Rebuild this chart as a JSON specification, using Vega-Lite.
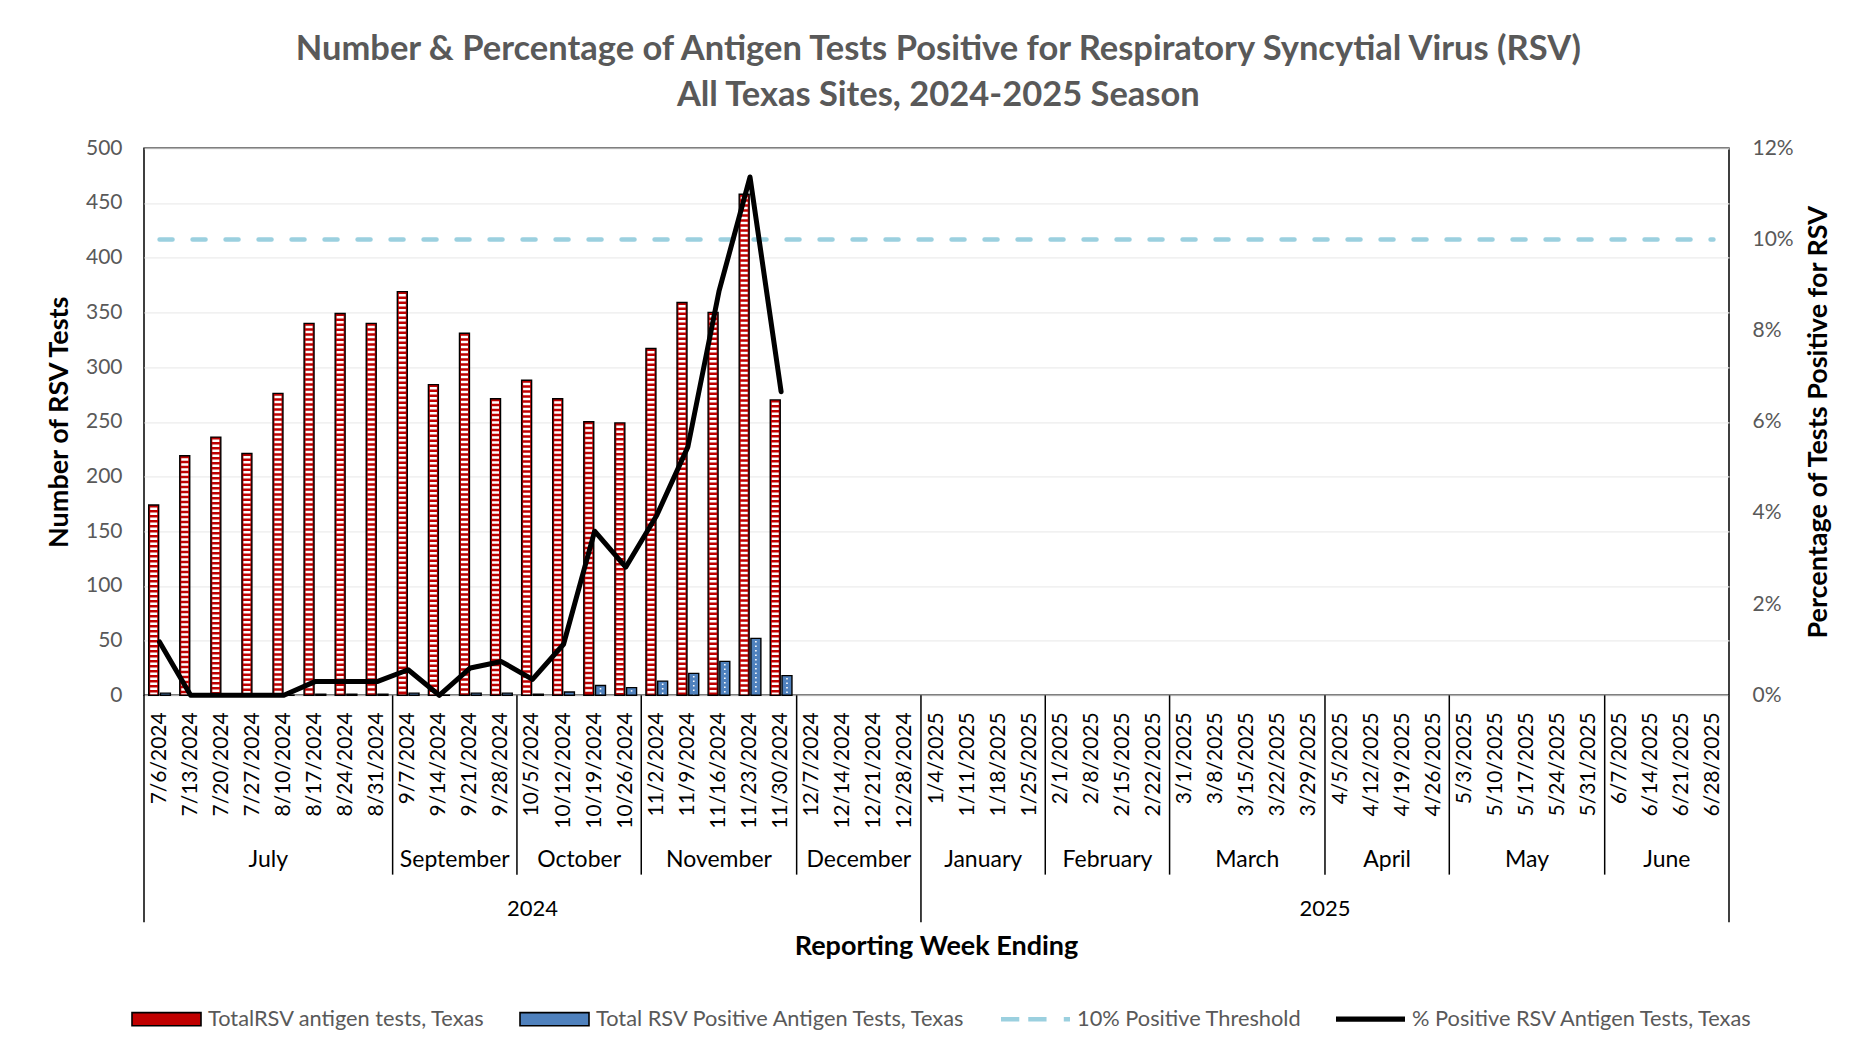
{
  "$schema": "https://vega.github.io/schema/vega-lite/v6.json",
  "background": "white",
  "padding": {"left": 44, "top": 31.3, "right": 42, "bottom": 2},
  "bounds": "flush",
  "spacing": 0,
  "datasets": {
    "rsv": [
      {"week": "7/6/2024", "total": 174, "positive": 2, "pct": 1.17},
      {"week": "7/13/2024", "total": 219, "positive": 0, "pct": 0},
      {"week": "7/20/2024", "total": 236, "positive": 0, "pct": 0},
      {"week": "7/27/2024", "total": 221, "positive": 0, "pct": 0},
      {"week": "8/10/2024", "total": 276, "positive": 0, "pct": 0},
      {"week": "8/17/2024", "total": 340, "positive": 1, "pct": 0.3},
      {"week": "8/24/2024", "total": 349, "positive": 1, "pct": 0.3},
      {"week": "8/31/2024", "total": 340, "positive": 1, "pct": 0.3},
      {"week": "9/7/2024", "total": 369, "positive": 2, "pct": 0.56},
      {"week": "9/14/2024", "total": 284, "positive": 0, "pct": 0},
      {"week": "9/21/2024", "total": 331, "positive": 2, "pct": 0.6},
      {"week": "9/28/2024", "total": 271, "positive": 2, "pct": 0.74},
      {"week": "10/5/2024", "total": 288, "positive": 1, "pct": 0.35},
      {"week": "10/12/2024", "total": 271, "positive": 3, "pct": 1.12},
      {"week": "10/19/2024", "total": 250, "positive": 9, "pct": 3.6},
      {"week": "10/26/2024", "total": 249, "positive": 7, "pct": 2.81},
      {"week": "11/2/2024", "total": 317, "positive": 13, "pct": 3.95},
      {"week": "11/9/2024", "total": 359, "positive": 20, "pct": 5.45},
      {"week": "11/16/2024", "total": 350, "positive": 31, "pct": 8.86},
      {"week": "11/23/2024", "total": 458, "positive": 52, "pct": 11.37},
      {"week": "11/30/2024", "total": 270, "positive": 18, "pct": 6.66},
      {"week": "12/7/2024", "total": null, "positive": null, "pct": null},
      {"week": "12/14/2024", "total": null, "positive": null, "pct": null},
      {"week": "12/21/2024", "total": null, "positive": null, "pct": null},
      {"week": "12/28/2024", "total": null, "positive": null, "pct": null},
      {"week": "1/4/2025", "total": null, "positive": null, "pct": null},
      {"week": "1/11/2025", "total": null, "positive": null, "pct": null},
      {"week": "1/18/2025", "total": null, "positive": null, "pct": null},
      {"week": "1/25/2025", "total": null, "positive": null, "pct": null},
      {"week": "2/1/2025", "total": null, "positive": null, "pct": null},
      {"week": "2/8/2025", "total": null, "positive": null, "pct": null},
      {"week": "2/15/2025", "total": null, "positive": null, "pct": null},
      {"week": "2/22/2025", "total": null, "positive": null, "pct": null},
      {"week": "3/1/2025", "total": null, "positive": null, "pct": null},
      {"week": "3/8/2025", "total": null, "positive": null, "pct": null},
      {"week": "3/15/2025", "total": null, "positive": null, "pct": null},
      {"week": "3/22/2025", "total": null, "positive": null, "pct": null},
      {"week": "3/29/2025", "total": null, "positive": null, "pct": null},
      {"week": "4/5/2025", "total": null, "positive": null, "pct": null},
      {"week": "4/12/2025", "total": null, "positive": null, "pct": null},
      {"week": "4/19/2025", "total": null, "positive": null, "pct": null},
      {"week": "4/26/2025", "total": null, "positive": null, "pct": null},
      {"week": "5/3/2025", "total": null, "positive": null, "pct": null},
      {"week": "5/10/2025", "total": null, "positive": null, "pct": null},
      {"week": "5/17/2025", "total": null, "positive": null, "pct": null},
      {"week": "5/24/2025", "total": null, "positive": null, "pct": null},
      {"week": "5/31/2025", "total": null, "positive": null, "pct": null},
      {"week": "6/7/2025", "total": null, "positive": null, "pct": null},
      {"week": "6/14/2025", "total": null, "positive": null, "pct": null},
      {"week": "6/21/2025", "total": null, "positive": null, "pct": null},
      {"week": "6/28/2025", "total": null, "positive": null, "pct": null}
    ]
  },
  "title": {
    "text": ["Number & Percentage of Antigen Tests Positive for Respiratory Syncytial Virus (RSV)", "All Texas Sites, 2024-2025 Season"],
    "font": "Lato", "fontSize": 34.5, "fontWeight": "bold", "color": "#595959",
    "lineHeight": 46, "anchor": "middle", "offset": 23.2
  },
  "vconcat": [
    {
      "width": 1585,
      "height": 547,
      "data": {"name": "rsv"},
      "encoding": {
        "x": {
          "field": "week", "type": "nominal",
          "scale": {"domain": ["7/6/2024","7/13/2024","7/20/2024","7/27/2024","8/10/2024","8/17/2024","8/24/2024","8/31/2024","9/7/2024","9/14/2024","9/21/2024","9/28/2024","10/5/2024","10/12/2024","10/19/2024","10/26/2024","11/2/2024","11/9/2024","11/16/2024","11/23/2024","11/30/2024","12/7/2024","12/14/2024","12/21/2024","12/28/2024","1/4/2025","1/11/2025","1/18/2025","1/25/2025","2/1/2025","2/8/2025","2/15/2025","2/22/2025","3/1/2025","3/8/2025","3/15/2025","3/22/2025","3/29/2025","4/5/2025","4/12/2025","4/19/2025","4/26/2025","5/3/2025","5/10/2025","5/17/2025","5/24/2025","5/31/2025","6/7/2025","6/14/2025","6/21/2025","6/28/2025"], "paddingInner": 0, "paddingOuter": 0},
          "axis": null
        }
      },
      "layer": [
        {
          "transform": [{"fold": ["total", "positive"], "as": ["key", "count"]}],
          "encoding": {
            "xOffset": {"field": "key", "type": "nominal", "scale": {"domain": ["total", "positive"], "paddingInner": 0.15, "paddingOuter": 0.4}},
            "y": {
              "field": "count", "type": "quantitative",
              "scale": {"domain": [0, 500]},
              "axis": {
                "orient": "left", "values": [0,50,100,150,200,250,300,350,400,450,500],
                "title": "Number of RSV Tests", "titleFont": "Lato", "titleFontSize": 27, "titleFontWeight": "bold", "titleColor": "black", "titlePadding": 12,
                "labelFont": "Lato", "labelFontSize": 21, "labelColor": "#595959", "labelPadding": 22,
                "ticks": false, "domain": false, "grid": true, "gridColor": "#ECECEC", "gridWidth": 1.2
              }
            }
          },
          "layer": [
            {
              "mark": {"type": "bar", "stroke": "black", "strokeWidth": 1.4},
              "encoding": {
                "fill": {
                  "field": "key", "type": "nominal",
                  "scale": {"domain": ["total", "positive"], "range": ["#C00000", "#4F81BD"]},
                  "legend": null
                }
              }
            },
            {
              "transform": [{"filter": "datum.key === 'total'"}],
              "mark": {"type": "rule", "color": "white", "strokeWidth": 7, "strokeDash": [2.5, 2.5], "strokeDashOffset": 2.5},
              "encoding": {"y2": {"datum": 1}}
            },
            {
              "transform": [{"filter": "datum.key === 'positive'"}],
              "mark": {"type": "rule", "color": "white", "strokeWidth": 1.6, "strokeDash": [1.5, 3], "strokeDashOffset": 2},
              "encoding": {"y2": {"datum": 1}}
            }
          ]
        },
        {
          "layer": [
            {
              "mark": {"type": "line", "color": "#9BD0DF", "strokeWidth": 4.5, "strokeDash": [13, 20], "strokeCap": "round"},
              "encoding": {
                "y": {"datum": 10, "type": "quantitative", "scale": {"domain": [0, 12]},
                  "axis": {
                    "orient": "right", "values": [0,2,4,6,8,10,12], "labelExpr": "datum.value + '%'",
                    "title": "Percentage of Tests Positive for RSV", "titleFont": "Lato", "titleFontSize": 27, "titleFontWeight": "bold", "titleColor": "black", "titlePadding": 12, "titleAngle": 270, "titleBaseline": "top",
                    "labelFont": "Lato", "labelFontSize": 21, "labelColor": "#595959", "labelPadding": 23,
                    "ticks": false, "domain": false, "grid": false
                  }
                }
              }
            },
            {
              "mark": {"type": "line", "color": "black", "strokeWidth": 5, "strokeCap": "round", "strokeJoin": "round"},
              "encoding": {
                "y": {"field": "pct", "type": "quantitative", "scale": {"domain": [0, 12]},
                  "axis": {
                    "orient": "right", "values": [0,2,4,6,8,10,12], "labelExpr": "datum.value + '%'",
                    "title": "Percentage of Tests Positive for RSV", "titleFont": "Lato", "titleFontSize": 27, "titleFontWeight": "bold", "titleColor": "black", "titlePadding": 12, "titleAngle": 270, "titleBaseline": "top",
                    "labelFont": "Lato", "labelFontSize": 21, "labelColor": "#595959", "labelPadding": 23,
                    "ticks": false, "domain": false, "grid": false
                  }
                }
              }
            },
            {
              "transform": [{"filter": "false"}],
              "mark": {"type": "point", "filled": true, "opacity": 1},
              "encoding": {
                "y": {"field": "pct", "type": "quantitative", "scale": {"domain": [0, 12]},
                  "axis": {
                    "orient": "right", "values": [0,2,4,6,8,10,12], "labelExpr": "datum.value + '%'",
                    "title": "Percentage of Tests Positive for RSV", "titleFont": "Lato", "titleFontSize": 27, "titleFontWeight": "bold", "titleColor": "black", "titlePadding": 12, "titleAngle": 270, "titleBaseline": "top",
                    "labelFont": "Lato", "labelFontSize": 21, "labelColor": "#595959", "labelPadding": 23,
                    "ticks": false, "domain": false, "grid": false
                  }
                },
                "color": {
                  "field": "series", "type": "nominal",
                  "scale": {"domain": ["total", "positive", "threshold", "pct"], "range": ["#C00000", "#4F81BD", "#9BD0DF", "black"]},
                  "legend": {
                    "orient": "none", "legendX": -13, "legendY": 835, "direction": "horizontal", "title": null,
                    "labelFont": "Lato", "labelFontSize": 21.8, "labelColor": "#595959", "labelLimit": 600, "labelOffset": 6,
                    "columnPadding": 30, "symbolSize": 4761, "symbolOpacity": 1, "symbolStrokeWidth": 1.6,
                    "labelExpr": "datum.label === 'total' ? 'TotalRSV antigen tests, Texas' : datum.label === 'positive' ? 'Total RSV Positive Antigen Tests, Texas' : datum.label === 'threshold' ? '10% Positive Threshold' : '% Positive RSV Antigen Tests, Texas'"
                  }
                },
                "shape": {
                  "field": "series", "type": "nominal",
                  "scale": {"domain": ["total", "positive", "threshold", "pct"], "range": ["M-1,-0.19H1V0.19H-1Z", "M-1,-0.19H1V0.19H-1Z", "M-1,-0.065H-0.47V0.065H-1Z M-0.21,-0.065H0.32V0.065H-0.21Z M0.82,-0.065H1V0.065H0.82Z", "M-1,-0.075H1V0.075H-1Z"]},
                  "legend": {
                    "orient": "none", "legendX": -13, "legendY": 835, "direction": "horizontal", "title": null,
                    "labelFont": "Lato", "labelFontSize": 21.8, "labelColor": "#595959", "labelLimit": 600, "labelOffset": 6,
                    "columnPadding": 30, "symbolSize": 4761, "symbolOpacity": 1, "symbolStrokeWidth": 1.6,
                    "labelExpr": "datum.label === 'total' ? 'TotalRSV antigen tests, Texas' : datum.label === 'positive' ? 'Total RSV Positive Antigen Tests, Texas' : datum.label === 'threshold' ? '10% Positive Threshold' : '% Positive RSV Antigen Tests, Texas'"
                  }
                },
                "stroke": {
                  "field": "series", "type": "nominal",
                  "scale": {"domain": ["total", "positive", "threshold", "pct"], "range": ["black", "black", "transparent", "transparent"]},
                  "legend": {
                    "orient": "none", "legendX": -13, "legendY": 835, "direction": "horizontal", "title": null,
                    "labelFont": "Lato", "labelFontSize": 21.8, "labelColor": "#595959", "labelLimit": 600, "labelOffset": 6,
                    "columnPadding": 30, "symbolSize": 4761, "symbolOpacity": 1, "symbolStrokeWidth": 1.6,
                    "labelExpr": "datum.label === 'total' ? 'TotalRSV antigen tests, Texas' : datum.label === 'positive' ? 'Total RSV Positive Antigen Tests, Texas' : datum.label === 'threshold' ? '10% Positive Threshold' : '% Positive RSV Antigen Tests, Texas'"
                  }
                }
              }
            }
          ]
        }
      ],
      "resolve": {"scale": {"y": "independent"}}
    },
    {
      "width": 1585,
      "height": 227,
      "view": {"stroke": null},
      "title": {"text": "Reporting Week Ending", "orient": "bottom", "anchor": "middle", "font": "Lato", "fontSize": 27, "fontWeight": "bold", "color": "black", "offset": 10.5},
      "layer": [
        {
          "data": {"name": "rsv"},
          "mark": {"type": "text", "angle": 270, "align": "right", "baseline": "middle", "font": "Lato", "fontSize": 21, "color": "black"},
          "encoding": {
            "x": {
              "field": "week", "type": "nominal",
              "scale": {"domain": ["7/6/2024","7/13/2024","7/20/2024","7/27/2024","8/10/2024","8/17/2024","8/24/2024","8/31/2024","9/7/2024","9/14/2024","9/21/2024","9/28/2024","10/5/2024","10/12/2024","10/19/2024","10/26/2024","11/2/2024","11/9/2024","11/16/2024","11/23/2024","11/30/2024","12/7/2024","12/14/2024","12/21/2024","12/28/2024","1/4/2025","1/11/2025","1/18/2025","1/25/2025","2/1/2025","2/8/2025","2/15/2025","2/22/2025","3/1/2025","3/8/2025","3/15/2025","3/22/2025","3/29/2025","4/5/2025","4/12/2025","4/19/2025","4/26/2025","5/3/2025","5/10/2025","5/17/2025","5/24/2025","5/31/2025","6/7/2025","6/14/2025","6/21/2025","6/28/2025"], "paddingInner": 0, "paddingOuter": 0},
              "axis": null
            },
            "y": {"datum": 0.075, "type": "quantitative", "scale": {"domain": [0, 1], "reverse": true}, "axis": null},
            "text": {"field": "week", "type": "nominal"}
          }
        },
        {
          "data": {"values": [{"week": "9/7/2024"}, {"week": "10/5/2024"}, {"week": "11/2/2024"}, {"week": "12/7/2024"}, {"week": "2/1/2025"}, {"week": "3/1/2025"}, {"week": "4/5/2025"}, {"week": "5/3/2025"}, {"week": "6/7/2025"}]},
          "mark": {"type": "rule", "color": "black", "strokeWidth": 1.5},
          "encoding": {
            "x": {"field": "week", "type": "nominal", "bandPosition": 0, "axis": null},
            "y": {"datum": 0, "type": "quantitative", "scale": {"domain": [0, 1], "reverse": true}, "axis": null},
            "y2": {"datum": 0.79}
          }
        },
        {
          "data": {"values": [{"week": "7/6/2024"}, {"week": "1/4/2025"}]},
          "mark": {"type": "rule", "color": "black", "strokeWidth": 1.5},
          "encoding": {
            "x": {"field": "week", "type": "nominal", "bandPosition": 0, "axis": null},
            "y": {"datum": 0, "type": "quantitative", "scale": {"domain": [0, 1], "reverse": true}, "axis": null},
            "y2": {"datum": 1}
          }
        },
        {
          "data": {"values": [{"week": "6/28/2025"}]},
          "mark": {"type": "rule", "color": "black", "strokeWidth": 1.5},
          "encoding": {
            "x": {"field": "week", "type": "nominal", "bandPosition": 1, "axis": null},
            "y": {"datum": 0, "type": "quantitative", "scale": {"domain": [0, 1], "reverse": true}, "axis": null},
            "y2": {"datum": 1}
          }
        },
        {
          "data": {"values": [{"week": "8/10/2024", "name": "July"}, {"week": "9/21/2024", "name": "September"}, {"week": "10/19/2024", "name": "October"}, {"week": "12/21/2024", "name": "December"}, {"week": "1/18/2025", "name": "January"}, {"week": "2/15/2025", "name": "February"}, {"week": "4/19/2025", "name": "April"}, {"week": "6/21/2025", "name": "June"}]},
          "mark": {"type": "text", "align": "center", "baseline": "middle", "font": "Lato", "fontSize": 23, "color": "black"},
          "encoding": {
            "x": {"field": "week", "type": "nominal", "bandPosition": 0, "axis": null},
            "y": {"datum": 0.727, "type": "quantitative", "scale": {"domain": [0, 1], "reverse": true}, "axis": null},
            "text": {"field": "name", "type": "nominal"}
          }
        },
        {
          "data": {"values": [{"week": "11/16/2024", "name": "November"}, {"week": "3/15/2025", "name": "March"}, {"week": "5/17/2025", "name": "May"}]},
          "mark": {"type": "text", "align": "center", "baseline": "middle", "font": "Lato", "fontSize": 23, "color": "black"},
          "encoding": {
            "x": {"field": "week", "type": "nominal", "bandPosition": 0.5, "axis": null},
            "y": {"datum": 0.727, "type": "quantitative", "scale": {"domain": [0, 1], "reverse": true}, "axis": null},
            "text": {"field": "name", "type": "nominal"}
          }
        },
        {
          "data": {"values": [{"week": "4/5/2025", "name": "2025"}]},
          "mark": {"type": "text", "align": "center", "baseline": "middle", "font": "Lato", "fontSize": 22, "color": "black"},
          "encoding": {
            "x": {"field": "week", "type": "nominal", "bandPosition": 0, "axis": null},
            "y": {"datum": 0.94, "type": "quantitative", "scale": {"domain": [0, 1], "reverse": true}, "axis": null},
            "text": {"field": "name", "type": "nominal"}
          }
        },
        {
          "data": {"values": [{"week": "10/5/2024", "name": "2024"}]},
          "mark": {"type": "text", "align": "center", "baseline": "middle", "font": "Lato", "fontSize": 22, "color": "black"},
          "encoding": {
            "x": {"field": "week", "type": "nominal", "bandPosition": 0.5, "axis": null},
            "y": {"datum": 0.94, "type": "quantitative", "scale": {"domain": [0, 1], "reverse": true}, "axis": null},
            "text": {"field": "name", "type": "nominal"}
          }
        }
      ]
    }
  ],
  "config": {
    "view": {"stroke": "black", "strokeWidth": 1.5},
    "font": "Lato"
  }
}
